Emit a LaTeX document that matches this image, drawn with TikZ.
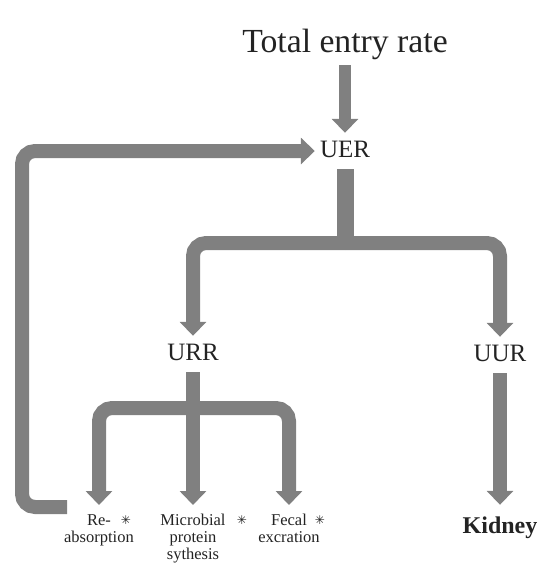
\documentclass[tikz,border=0pt]{standalone}
\usepackage{fontspec}
\setmainfont{Liberation Serif}
\newfontfamily\symfont{DejaVu Sans}
\usetikzlibrary{arrows.meta}
\definecolor{flowgray}{RGB}{128,128,128}
\definecolor{inkgray}{RGB}{35,35,35}
\begin{document}
\begin{tikzpicture}[x=1pt,y=-1pt,
  flow/.style={draw=flowgray, line width=14pt,
    -{Triangle[width=26pt,length=14pt]}, rounded corners=13pt},
  stem/.style={draw=flowgray, line width=14pt},
  term/.style={font=\fontsize{25}{30}\selectfont, text=inkgray,
    inner xsep=5pt, inner ysep=7pt, text height=17pt, text depth=5pt, anchor=base},
  small/.style={font=\fontsize{16.5}{17}\selectfont, text=inkgray, align=center,
    anchor=north, inner xsep=0pt, inner ysep=9pt},
  star/.style={font=\symfont\fontsize{12}{12}\selectfont, text=inkgray, inner sep=0pt}]
\useasboundingbox (0,0) rectangle (544,566);

% labels
\node[font=\fontsize{33.7}{40}\selectfont, text=inkgray, anchor=base,
  inner ysep=5pt, text depth=8pt] (title) at (345,52) {Total entry rate};
\node[term] (uer) at (345,157) {UER};
\node[term] (urr) at (193,360) {URR};
\node[term] (uur) at (500,361) {UUR};
\node[term, font=\fontsize{24}{28}\selectfont\bfseries, inner ysep=11pt] (kid) at (500,533) {Kidney};
\node[small] (re) at (99,505) {Re-\\absorption};
\node[small] (mic) at (193,505) {Microbial\\protein\\sythesis};
\node[small] (fec) at (289,505) {Fecal\\excration};
\node[star] (s1) at (126,520) {✳};
\node[star] (s2) at (242,520) {✳};
\node[star] (s3) at (320,520) {✳};

% junctions and loop ends
\coordinate (j1) at (345,243);
\coordinate (j2) at (193,408);
\coordinate (rs) at (67,507);
\coordinate (lx) at (22,507);

% connectors
\draw[flow, line width=12pt] (title.south) -- (uer.north);
\draw[stem, line width=17pt] (uer.south) -- (j1);
\draw[flow] (j1) -| (urr.north);
\draw[flow] (j1) -| (uur.north);
\draw[stem] (urr.south) -- (j2);
\draw[flow] (j2) -| (re.north);
\draw[flow] (j2) -- (mic.north);
\draw[flow] (j2) -| (fec.north);
\draw[flow] (uur.south) -- (kid.north);
\draw[flow] (rs) -- (lx) |- (uer.west);
\end{tikzpicture}
\end{document}
